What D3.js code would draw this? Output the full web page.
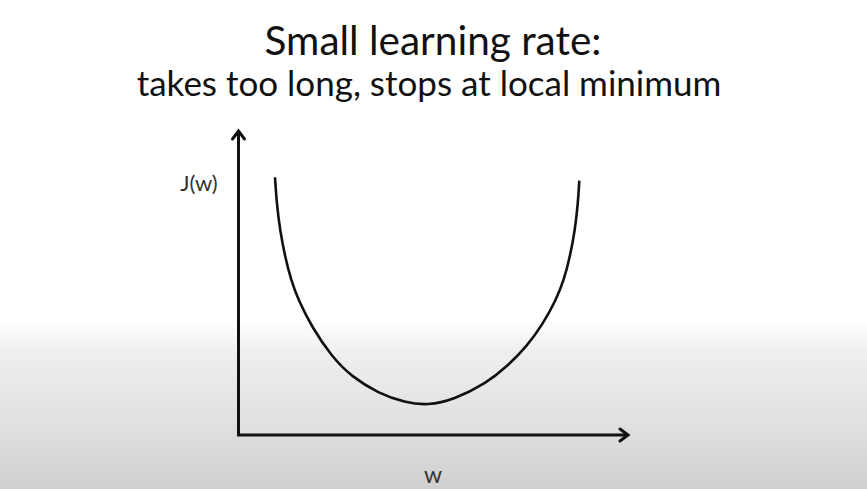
<!DOCTYPE html>
<html>
<head>
<meta charset="utf-8">
<script src="https://cdn.jsdelivr.net/npm/d3@7"></script>
<style>
  html, body { margin: 0; padding: 0; background: #fff; }
  svg { display: block; }
</style>
</head>
<body>
<svg id="chart" width="867" height="489"></svg>
<script>
// ---- data ----
const titleText = "Small learning rate:";
const subtitleText = "takes too long, stops at local minimum";
const yLabel = "J(w)";
const xLabel = "w";
const wValues = [0.935, 0.978, 1.063, 1.191, 1.344, 1.531, 1.874, 2.387, 2.899, 3.580, 4.264, 4.853, 5.501, 6.356, 6.868, 7.380, 7.805, 8.131, 8.335, 8.489, 8.617, 8.694, 8.727];
const jValues = [8.45, 7.60, 6.72, 5.85, 5.08, 4.43, 3.55, 2.57, 1.91, 1.37, 1.06, 0.97, 1.15, 1.70, 2.24, 2.90, 3.66, 4.43, 5.08, 5.85, 6.72, 7.61, 8.34];
const xDomain = [0, 10];
const yDomain = [0, 10];

// ---- layout ----
const W = 867, H = 489;
const svg = d3.select("#chart");

const defs = svg.append("defs");
const grad = defs.append("linearGradient").attr("id", "bg").attr("x1", 0).attr("y1", 0).attr("x2", 0).attr("y2", 1);
[[0, "#ffffff"], [0.655, "#ffffff"], [0.72, "#efefef"], [0.85, "#e2e2e2"], [1, "#cfcfcf"]].forEach(([o, c]) =>
  grad.append("stop").attr("offset", o).attr("stop-color", c));
svg.append("rect").attr("width", W).attr("height", H).attr("fill", "url(#bg)");

const x = d3.scaleLinear().domain(xDomain).range([238.5, 629]);
const y = d3.scaleLinear().domain(yDomain).range([435, 130]);

const font = "Lato, 'Open Sans', sans-serif";

// Title
svg.append("text").attr("x", 433).attr("y", 55).attr("text-anchor", "middle")
  .attr("font-family", font).attr("font-size", 40.5).attr("fill", "#111").text(titleText);
svg.append("text").attr("x", 429).attr("y", 96).attr("text-anchor", "middle")
  .attr("font-family", font).attr("font-size", 35).attr("fill", "#111").text(subtitleText);

// Axes with open arrow heads
const axisColor = "#111";
const g = svg.append("g");
g.append("line").attr("x1", x(0)).attr("y1", y(0)).attr("x2", x(0)).attr("y2", y(10) + 1)
  .attr("stroke", axisColor).attr("stroke-width", 3);
g.append("line").attr("x1", x(0) - 1.5).attr("y1", y(0)).attr("x2", x(10) - 1).attr("y2", y(0))
  .attr("stroke", axisColor).attr("stroke-width", 3);
g.append("path")
  .attr("d", `M${x(0) - 6},${y(10) + 9} L${x(0)},${y(10) + 1} L${x(0) + 6},${y(10) + 9}`)
  .attr("fill", "none").attr("stroke", axisColor).attr("stroke-width", 3).attr("stroke-linecap", "round");
g.append("path")
  .attr("d", `M${x(10) - 9},${y(0) - 6} L${x(10) - 1},${y(0)} L${x(10) - 9},${y(0) + 6}`)
  .attr("fill", "none").attr("stroke", axisColor).attr("stroke-width", 3).attr("stroke-linecap", "round");

// Labels
svg.append("text").attr("x", 199).attr("y", 191).attr("text-anchor", "middle")
  .attr("font-family", font).attr("font-size", 22).attr("fill", "#333").text(yLabel);
svg.append("text").attr("x", 433).attr("y", 483).attr("text-anchor", "middle")
  .attr("font-family", font).attr("font-size", 23).attr("fill", "#333").text(xLabel);

// Curve
const pts = wValues.map((w, i) => [w, jValues[i]]);
const line = d3.line().x(d => x(d[0])).y(d => y(d[1])).curve(d3.curveBasis);
svg.append("path").datum(pts).attr("d", line)
  .attr("fill", "none").attr("stroke", "#111").attr("stroke-width", 2.6);
</script>
</body>
</html>
